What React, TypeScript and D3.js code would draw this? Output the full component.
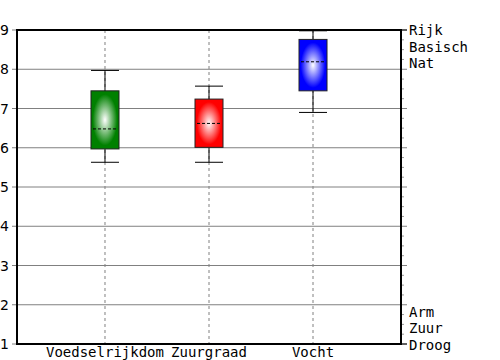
import React from "react";
import * as d3 from "d3";

const categories = ["Voedselrijkdom", "Zuurgraad", "Vocht"];
const whiskerLow = [5.63, 5.63, 6.9];
const q1 = [5.97, 6.01, 7.45];
const medians = [6.48, 6.62, 8.19];
const q3 = [7.45, 7.24, 8.76];
const whiskerHigh = [7.97, 7.57, 8.98];
const boxColors = ["#008000", "#ff0000", "#0000ff"];
const yTicks = [1, 2, 3, 4, 5, 6, 7, 8, 9];
const topLabels = ["Rijk", "Basisch", "Nat"];
const bottomLabels = ["Arm", "Zuur", "Droog"];

export default function App() {
  const W = 500, H = 360;
  const left = 17, right = 401, top = 30, bottom = 344;
  const y = d3.scaleLinear().domain([1, 9]).range([bottom, top]);
  const x = d3.scalePoint<string>().domain(categories).range([left, right]).padding(0.846);
  const bw = 28;
  const minor = d3.range(1, 9.001, 0.25).filter((v) => Math.abs(v - Math.round(v)) > 0.01);
  const mono = "'DejaVu Sans Mono', monospace";
  const sans = "'DejaVu Sans', sans-serif";
  const lh = 16.7;
  return (
    <svg width={W} height={H} style={{ position: "absolute", left: 0, top: 0 }}>
      <defs>
        {boxColors.map((c, i) => (
          <radialGradient key={i} id={`g${i}`} cx="0.5" cy="0.5" r="0.55">
            <stop offset="0" stopColor="#ffffff" />
            <stop offset="0.8" stopColor={c} />
            <stop offset="1" stopColor={c} />
          </radialGradient>
        ))}
      </defs>
      <rect x={0} y={0} width={W} height={H} fill="#fff" />
      {yTicks.map((t) => (
        <g key={t}>
          <line x1={left - 5} x2={right + 6} y1={y(t)} y2={y(t)} stroke="#808080" strokeWidth={1} />
          <text x={9} y={y(t)} textAnchor="end" dominantBaseline="central" fontFamily={sans} fontSize={14} fill="#000">
            {t}
          </text>
        </g>
      ))}
      {minor.map((v) => (
        <g key={v}>
          <line x1={left - 1} x2={left + 1} y1={y(v)} y2={y(v)} stroke="#999" strokeWidth={1} />
          <line x1={right + 1} x2={right + 3} y1={y(v)} y2={y(v)} stroke="#999" strokeWidth={1} />
        </g>
      ))}
      {categories.map((c) => (
        <line key={c} x1={x(c)} x2={x(c)} y1={top} y2={bottom} stroke="#808080" strokeDasharray="3,3" strokeWidth={1} />
      ))}
      {categories.map((c, i) => {
        const cx = x(c)!;
        return (
          <g key={c}>
            <line x1={cx} x2={cx} y1={y(whiskerHigh[i])} y2={y(q3[i])} stroke="#000" />
            <line x1={cx} x2={cx} y1={y(q1[i])} y2={y(whiskerLow[i])} stroke="#000" />
            <line x1={cx - bw / 2} x2={cx + bw / 2} y1={y(whiskerHigh[i])} y2={y(whiskerHigh[i])} stroke="#000" />
            <line x1={cx - bw / 2} x2={cx + bw / 2} y1={y(whiskerLow[i])} y2={y(whiskerLow[i])} stroke="#000" />
            <rect
              x={cx - bw / 2}
              y={y(q3[i])}
              width={bw}
              height={y(q1[i]) - y(q3[i])}
              fill={`url(#g${i})`}
              stroke="#222"
              strokeWidth={1}
            />
            <line
              x1={cx - bw / 2 + 2}
              x2={cx + bw / 2 - 2}
              y1={y(medians[i])}
              y2={y(medians[i])}
              stroke="#000"
              strokeDasharray="3,2"
            />
            <text x={cx} y={357} textAnchor="middle" fontFamily={mono} fontSize={14} fill="#000">
              {c}
            </text>
          </g>
        );
      })}
      <rect x={left} y={top} width={right - left} height={bottom - top} fill="none" stroke="#000" strokeWidth={2} />
      <line x1={right} x2={right + 6} y1={y(9)} y2={y(9)} stroke="#000" />
      <line x1={right} x2={right + 6} y1={y(1)} y2={y(1)} stroke="#000" />
      {topLabels.map((l, i) => (
        <text key={l} x={409} y={y(9) + i * lh} dominantBaseline="central" fontFamily={mono} fontSize={14} fill="#000">
          {l}
        </text>
      ))}
      {bottomLabels.map((l, i) => (
        <text
          key={l}
          x={409}
          y={y(1) - (bottomLabels.length - 1 - i) * lh + 1}
          dominantBaseline="central"
          fontFamily={mono}
          fontSize={14}
          fill="#000"
        >
          {l}
        </text>
      ))}
    </svg>
  );
}
